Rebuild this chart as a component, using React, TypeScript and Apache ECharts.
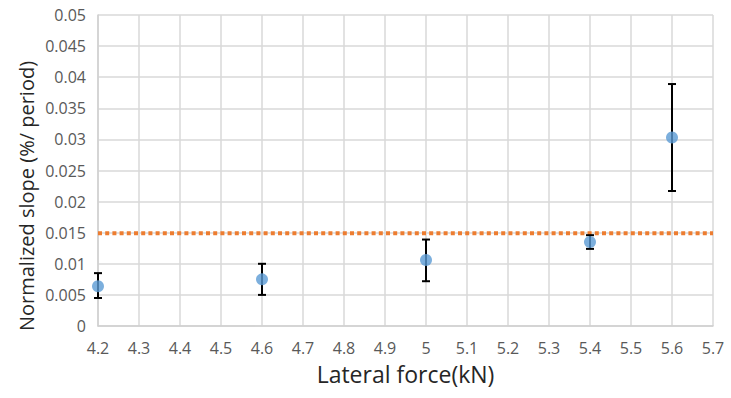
import React, { useEffect, useRef } from "react";
import * as echarts from "echarts";

const forces = [4.2, 4.6, 5.0, 5.4, 5.6];
const slopes = [0.0064, 0.0075, 0.0106, 0.0135, 0.0303];
const errLow = [0.0045, 0.005, 0.0072, 0.0124, 0.0217];
const errHigh = [0.0085, 0.01, 0.0139, 0.0146, 0.0389];
const threshold = 0.0149;
const xRange = [4.2, 5.7];

export default function App() {
  const ref = useRef<HTMLDivElement>(null);
  useEffect(() => {
    const chart = echarts.init(ref.current!, null, { renderer: "svg" });
    const font = "'Open Sans', 'Noto Sans', sans-serif";
    chart.setOption({
      animation: false,
      textStyle: { fontFamily: font },
      grid: { left: 98, right: 18, top: 15, bottom: 72 },
      graphic: [
        {
          type: "text",
          x: 26,
          y: 196,
          rotation: Math.PI / 2,
          style: {
            text: "Normalized slope (%/ period)",
            fontSize: 20,
            fontFamily: font,
            fill: "#262626",
            textAlign: "center",
            textVerticalAlign: "middle",
          },
        },
      ],
      xAxis: {
        type: "value",
        min: xRange[0],
        max: xRange[1],
        interval: 0.1,
        name: "Lateral force(kN)",
        nameLocation: "middle",
        nameGap: 36,
        nameTextStyle: { fontSize: 23, color: "#262626", fontFamily: font },
        axisLine: { show: true, lineStyle: { color: "#d0d0d0", width: 1.5 } },
        axisTick: { show: false },
        axisLabel: {
          fontSize: 16,
          color: "#595959",
          margin: 14,
          fontFamily: font,
          formatter: (v: number) => String(parseFloat(v.toFixed(1))),
        },
        splitLine: { show: true, lineStyle: { color: "#d9d9d9", width: 1.5 } },
      },
      yAxis: {
        type: "value",
        min: 0,
        max: 0.05,
        interval: 0.005,
        axisLine: { show: true, lineStyle: { color: "#d0d0d0", width: 1.5 } },
        axisTick: { show: false },
        axisLabel: {
          fontSize: 16,
          color: "#595959",
          margin: 12,
          fontFamily: font,
          formatter: (v: number) => String(parseFloat(v.toFixed(3))),
        },
        splitLine: { show: true, lineStyle: { color: "#d9d9d9", width: 1.5 } },
      },
      series: [
        {
          type: "line",
          data: [
            [xRange[0], threshold],
            [xRange[1], threshold],
          ],
          symbol: "none",
          lineStyle: { color: "#ED7D31", width: 4, type: [4, 3.2], cap: "butt" },
          z: 2,
        },
        {
          type: "custom",
          data: forces.map((f, i) => [f, errLow[i], errHigh[i]]),
          renderItem: (params: any, api: any) => {
            const x = api.value(0);
            const lo = api.coord([x, api.value(1)]);
            const hi = api.coord([x, api.value(2)]);
            const hw = 4;
            const style = { stroke: "#000", lineWidth: 2 };
            return {
              type: "group",
              children: [
                { type: "line", shape: { x1: lo[0], y1: lo[1], x2: hi[0], y2: hi[1] }, style },
                { type: "line", shape: { x1: lo[0] - hw, y1: lo[1], x2: lo[0] + hw, y2: lo[1] }, style },
                { type: "line", shape: { x1: hi[0] - hw, y1: hi[1], x2: hi[0] + hw, y2: hi[1] }, style },
              ],
            };
          },
          z: 3,
        },
        {
          type: "scatter",
          data: forces.map((f, i) => [f, slopes[i]]),
          symbol: "circle",
          symbolSize: 12,
          itemStyle: { color: "#5B9BD5" },
          z: 4,
        },
      ],
    });
    return () => chart.dispose();
  }, []);
  return <div ref={ref} style={{ width: 731, height: 398, position: "absolute", left: 0, top: 0 }} />;
}
